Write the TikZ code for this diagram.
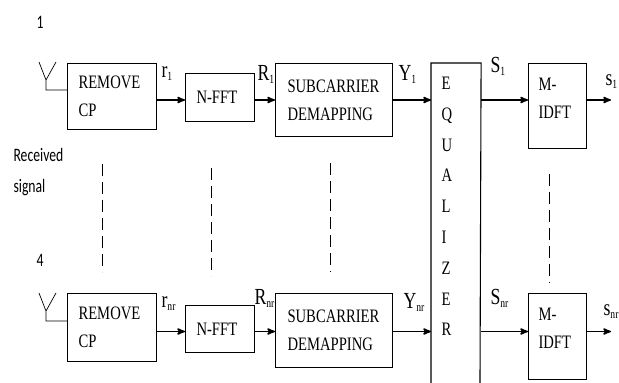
\documentclass[tikz,border=0pt]{standalone}
\usepackage{fontspec}
\setmainfont[FakeStretch=0.77]{Liberation Serif}
\newfontfamily\carlitofont[FakeStretch=0.72]{Carlito}
\usetikzlibrary{arrows}
\usetikzlibrary{positioning}
\usetikzlibrary{calc}
\newcommand{\sigsub}[1]{\raisebox{-3.5pt}{\fontsize{12.5}{12.5}\selectfont #1}}

\begin{document}
\begin{tikzpicture}[x=1pt,y=-1pt,>=stealth',line width=1.1pt,
		block node/.style={draw,anchor=north west,align=left,inner ysep=0pt,font=\fontsize{19}{28}\selectfont},
		sig label/.style={anchor=base west,inner sep=0pt,font=\fontsize{23}{23}\selectfont},
		side label/.style={anchor=base west,inner sep=0pt,align=left,font=\carlitofont\fontsize{19}{31}\selectfont},
		sig arrow/.style={->,line width=1.6pt},
		gap line/.style={line width=0.7pt,dash pattern=on 12pt off 6pt}]
	\useasboundingbox (0,0) rectangle (619,383);

	% first row
	\node[block node,text width=67pt,inner xsep=11pt,minimum width=89pt,minimum height=66pt] (remove1) at (67,63) {REMOVE\\CP};
	\node[block node,text width=47pt,inner xsep=11pt,minimum width=69pt,minimum height=48pt] (fft1) at (185,73) {N-FFT};
	\node[block node,text width=93pt,inner xsep=12pt,minimum width=117pt,minimum height=73pt] (demap1) at (275,63) {SUBCARRIER\\DEMAPPING};
	\node[block node,text width=38pt,inner xsep=10pt,minimum width=58pt,minimum height=85pt] (idft1) at (528,63) {M-\\IDFT\\[-12pt]\mbox{}};

	% last row
	\node[block node,text width=67pt,inner xsep=11pt,minimum width=89pt,minimum height=68pt] (remove4) at (67,293) {REMOVE\\CP};
	\node[block node,text width=47pt,inner xsep=11pt,minimum width=69pt,minimum height=47pt] (fft4) at (185,305) {N-FFT};
	\node[block node,text width=93pt,inner xsep=12pt,minimum width=117pt,minimum height=74pt] (demap4) at (275,293) {SUBCARRIER\\DEMAPPING};
	\node[block node,text width=38pt,inner xsep=10pt,minimum width=58pt,minimum height=86pt] (idft4) at (528,293) {M-\\IDFT\\[-12pt]\mbox{}};

	% equalizer, open at the bottom
	\node[block node,draw=none,text width=29pt,inner xsep=10pt,minimum width=49pt,minimum height=286pt,font=\fontsize{19}{30.8}\selectfont] (eq) at (431,63) {E\\Q\\U\\A\\L\\I\\Z\\E\\R};
	\coordinate (eqleft) at (431,383);
	\coordinate (eqright) at (480,383);
	\draw (eqleft) -- (eq.north west) -- (eq.north east) -- (eqright);

	% antennas
	\coordinate (ant1tip) at (46,80);
	\coordinate (ant1low) at (46,90);
	\coordinate (ant1a) at (39,62);
	\coordinate (ant1b) at (56,62);
	\draw[line width=0.7pt] (ant1a) -- (ant1tip) -- (ant1b) (ant1tip) -- (ant1low) -- (remove1.west |- ant1low);
	\coordinate (ant4tip) at (46,311);
	\coordinate (ant4low) at (46,321);
	\coordinate (ant4a) at (39,293);
	\coordinate (ant4b) at (56,293);
	\draw[line width=0.7pt] (ant4a) -- (ant4tip) -- (ant4b) (ant4tip) -- (ant4low) -- (remove4.west |- ant4low);

	% signal lines
	\coordinate (row1) at (0,100);
	\coordinate (row4) at (0,331.5);
	\coordinate (out1) at (611,100);
	\coordinate (out4) at (611,331.5);
	\path[sig arrow]
		(remove1.east |- row1) edge[] (fft1.west |- row1)
		(fft1.east |- row1) edge[] (demap1.west |- row1)
		(demap1.east |- row1) edge[] (eq.west |- row1)
		(eq.east |- row1) edge[] (idft1.west |- row1)
		(idft1.east |- row1) edge[] (out1)
		(remove4.east |- row4) edge[] (fft4.west |- row4)
		(fft4.east |- row4) edge[] (demap4.west |- row4)
		(demap4.east |- row4) edge[] (eq.west |- row4)
		(eq.east |- row4) edge[] (idft4.west |- row4)
		(idft4.east |- row4) edge[] (out4)
	;

	% dashed links between the rows
	\coordinate (gapa) at (102,164);
	\coordinate (gapb) at (102,272);
	\coordinate (gapc) at (211,168);
	\coordinate (gapd) at (211,276);
	\coordinate (gape) at (330,163);
	\coordinate (gapf) at (330,272);
	\coordinate (gapg) at (549,174);
	\coordinate (gaph) at (549,283);
	\draw[gap line] (gapa) -- (gapb);
	\draw[gap line] (gapc) -- (gapd);
	\draw[gap line] (gape) -- (gapf);
	\draw[gap line] (gapg) -- (gaph);

	% labels
	\node[sig label] (r1) at (161,77) {r\sigsub{1}};
	\node[sig label] (R1) at (257,80) {R\sigsub{1}};
	\node[sig label] (Y1) at (398,80) {Y\sigsub{1}};
	\node[sig label] (S1) at (490,72) {S\sigsub{1}};
	\node[sig label] (s1) at (605,85) {s\sigsub{1}};
	\node[sig label] (r4) at (161,307) {r\sigsub{nr}};
	\node[sig label] (R4) at (254,304) {R\sigsub{nr}};
	\node[sig label] (Y4) at (403,308) {Y\sigsub{nr}};
	\node[sig label] (S4) at (490,304) {S\sigsub{nr}};
	\node[sig label] (s4) at (603,315) {s\sigsub{nr}};
	\node[side label] (one) at (36,28) {1};
	\node[side label] (four) at (36,266) {4};
	\node[side label] (received) at (13,192) {Received\\signal};
\end{tikzpicture}
\end{document}
